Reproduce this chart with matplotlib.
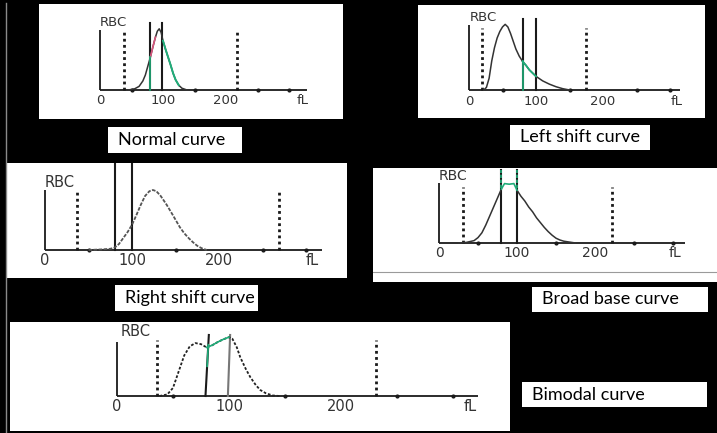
import matplotlib
matplotlib.use('Agg')
import numpy as np
import matplotlib.pyplot as plt
from matplotlib.patches import Rectangle

# ---------------- data ----------------
normal_fl = [45, 55, 62, 68, 72, 76, 80, 84, 88, 91, 94, 97, 100, 104, 108, 112, 116, 120, 125, 130, 138]
normal_h  = [0, 2, 6, 15, 25, 40, 55, 72, 88, 98, 102, 96, 82, 68, 55, 42, 28, 17, 8, 3, 0]

left_fl = [22, 26, 30, 34, 38, 42, 46, 50, 54, 58, 62, 66, 70, 75, 80, 85, 90, 95, 100, 110, 120, 130, 140, 150]
left_h  = [0, 4, 18, 45, 65, 80, 90, 97, 101, 97, 87, 75, 63, 52, 44, 38, 31, 26, 21, 14, 9, 5, 2, 0]

right_fl = [50, 65, 75, 80, 85, 90, 95, 100, 105, 110, 115, 120, 124, 128, 133, 140, 147, 155, 160, 165, 170, 175, 180, 186]
right_h  = [0, 1, 2, 4, 10, 20, 30, 42, 58, 75, 90, 98, 100, 98, 90, 75, 58, 38, 28, 20, 13, 7, 3, 0]

broad_fl = [25, 35, 45, 50, 55, 60, 65, 70, 75, 80, 84, 90, 96, 100, 105, 110, 115, 120, 125, 130, 135, 140, 145, 150, 155, 160, 170, 175]
broad_h  = [0, 1, 4, 9, 17, 30, 45, 60, 75, 90, 99, 98, 99, 88, 78, 70, 60, 52, 42, 34, 26, 19, 13, 8, 5, 3, 1, 0]

bimodal_fl = [38, 45, 50, 55, 60, 65, 70, 75, 80, 85, 90, 95, 100, 103, 107, 110, 115, 119, 124, 128, 133, 139, 145]
bimodal_h  = [0, 3, 15, 45, 75, 92, 98, 96, 90, 94, 100, 105, 109, 106, 90, 72, 50, 35, 20, 11, 5, 1, 0]

tick_values = [0, 100, 200]
tick_labels = ['0', '100', '200']
dot_ticks = [50, 150, 250, 300]

normal_dotted = [38, 217]
normal_solid = [80, 99]
left_dotted = [19, 175]
left_solid = [80, 100]
right_dotted = [37, 269]
right_solid = [80, 100]
broad_dotted = [31, 222]
broad_solid = [80, 100]
bimodal_dotted = [36, 231]
bimodal_solid_bottom = [79, 99]
bimodal_solid_top = [82, 101]

titles = ['Normal curve', 'Left shift curve', 'Right shift curve',
          'Broad base curve', 'Bimodal curve']

# ---------------- layout ----------------
W, H = 717, 433
fig = plt.figure(figsize=(W / 100, H / 100), dpi=100, facecolor='black')

GREEN = '#1fae7a'
PINK = '#d9577e'
INK = '#1a1a1a'
LAB = '#333333'


def make_panel(box, x0, s, yb, hpx):
    l, t, r, b = box
    ax = fig.add_axes([l / W, 1 - b / H, (r - l) / W, (b - t) / H])
    u = hpx / 100.0
    ax.set_xlim((l - x0) / s, (r - x0) / s)
    ax.set_ylim((yb - b) / u, (yb - t) / u)
    ax.set_facecolor('white')
    for sp in ax.spines.values():
        sp.set_visible(False)
    ax.set_xticks([])
    ax.set_yticks([])
    return ax


def frame(ax, axis_end, fl_x, lab_y, fs, rbc, rbc_fs):
    ax.plot([0, axis_end], [0, 0], color=INK, lw=1.3, solid_capstyle='butt')
    ax.plot([0, 0], [0, 100], color=INK, lw=1.3, solid_capstyle='butt')
    ax.plot(dot_ticks, [0] * len(dot_ticks), 'o', ms=2, color=INK)
    for v, tl in zip(tick_values, tick_labels):
        ax.text(v, lab_y, tl, ha='center', va='center', fontsize=fs,
                color=LAB, family='DejaVu Sans')
    ax.text(fl_x, lab_y, 'fL', ha='center', va='center', fontsize=fs,
            color=LAB, family='DejaVu Sans')
    ax.text(rbc[0], rbc[1], 'RBC', ha='left', va='center', fontsize=rbc_fs,
            color=LAB, family='DejaVu Sans')


def dotted(ax, xs, top):
    for x in xs:
        ax.plot([x, x], [0, top], color=INK, lw=2.0, linestyle=(0, (1, 1.2)))


def solid(ax, xs, top, color=INK):
    for x in xs:
        ax.plot([x, x], [0, top], color=color, lw=1.5)


def seg(fl, h, lo, hi):
    fl = np.asarray(fl, float)
    h = np.asarray(h, float)
    m = (fl >= lo) & (fl <= hi)
    return fl[m], h[m]


# Panel 1: normal
ax = make_panel((39, 4, 343, 119), 100, 0.63, 90, 60)
frame(ax, 329, 321, -17, 9.5, (0, 113), 9.5)
dotted(ax, normal_dotted, 97)
solid(ax, normal_solid, 112)
ax.plot(normal_fl, normal_h, color='#333333', lw=1.1)
gx, gy = seg(normal_fl, normal_h, 99, 125)
ax.plot(gx, gy, color=GREEN, lw=1.4)
px, py = seg(normal_fl, normal_h, 80, 88)
ax.plot(px, py, color=PINK, lw=1.2)
ax.plot([normal_solid[0]] * 2, [0, 55], color=GREEN, lw=1.2)

# Panel 2: left shift
ax = make_panel((418, 5, 705, 118), 469, 0.67, 90, 65)
frame(ax, 315, 310, -18, 9.5, (1, 112), 9.5)
dotted(ax, left_dotted, 95)
solid(ax, left_solid, 109)
ax.plot(left_fl, left_h, color='#333333', lw=1.1)
gx, gy = seg(left_fl, left_h, 80, 106)
ax.plot(gx, gy, color=GREEN, lw=1.3)
ax.plot([left_solid[0]] * 2, [0, 44], color=GREEN, lw=1.2)

# Panel 3: right shift
ax = make_panel((7, 163, 347, 278), 45, 0.87, 250, 60)
frame(ax, 318, 307, -17, 10.5, (0, 113), 10.5)
dotted(ax, right_dotted, 97)
solid(ax, right_solid, 160)
ax.plot(right_fl, right_h, color='#555555', lw=1.3, linestyle=(0, (2, 0.8)))

# Panel 4: broad base
ax = make_panel((373, 168, 717, 282), 439, 0.78, 243, 60)
frame(ax, 315, 303, -17, 10, (0, 112), 10)
dotted(ax, broad_dotted, 93)
solid(ax, broad_solid, 122)
for x in broad_solid:
    ax.plot([x, x], [92, 122], color=GREEN, lw=1.2, linestyle=(0, (2, 1)))
bx, by = seg(broad_fl, broad_h, 0, 80)
ax.plot(bx, by, color='#333333', lw=1.1)
bx, by = seg(broad_fl, broad_h, 100, 200)
ax.plot(bx, by, color='#333333', lw=1.1)
gx, gy = seg(broad_fl, broad_h, 80, 100)
ax.plot(gx, gy, color=GREEN, lw=1.2)
ax.plot([-200, 400], [-48, -48], color='#9a9a9a', lw=0.8)

# Panel 5: bimodal
ax = make_panel((10, 322, 510, 431), 117, 1.12, 396, 54)
frame(ax, 322, 315, -20, 10.5, (3, 119), 10.5)
dotted(ax, bimodal_dotted, 104)
for xb, xt, c in zip(bimodal_solid_bottom, bimodal_solid_top, [INK, '#777777']):
    ax.plot([xb, xt], [0, 113], color=c, lw=1.5)
ax.plot(bimodal_fl, bimodal_h, color='#222222', lw=1.3, linestyle=(0, (1.5, 1)))
gx, gy = seg(bimodal_fl, bimodal_h, 80, 100)
ax.plot(gx, gy, color=GREEN, lw=1.2)
ax.plot([80.5, 81.5], [55, 95], color=GREEN, lw=1.2)

# ---------------- caption boxes ----------------
boxes = [(108, 127, 242, 153), (510, 125, 650, 150), (115, 285, 258, 311),
         (532, 287, 708, 312), (522, 382, 707, 407)]
for (l, t, r, b), title in zip(boxes, titles):
    fig.patches.append(Rectangle((l / W, 1 - b / H), (r - l) / W, (b - t) / H,
                                 transform=fig.transFigure, facecolor='white',
                                 edgecolor='none'))
    fig.text((l + 10) / W, 1 - (t + b) / 2 / H, title, ha='left', va='center',
             fontsize=13, color='black', family='Lato')

# outer frame line on the left
fig.add_artist(plt.Line2D([5.5 / W, 5.5 / W], [1 - 432 / H, 1 - 3 / H],
                          transform=fig.transFigure, color='#8a8a8a', lw=1))

fig.savefig('out.png', dpi=100, facecolor='black')
